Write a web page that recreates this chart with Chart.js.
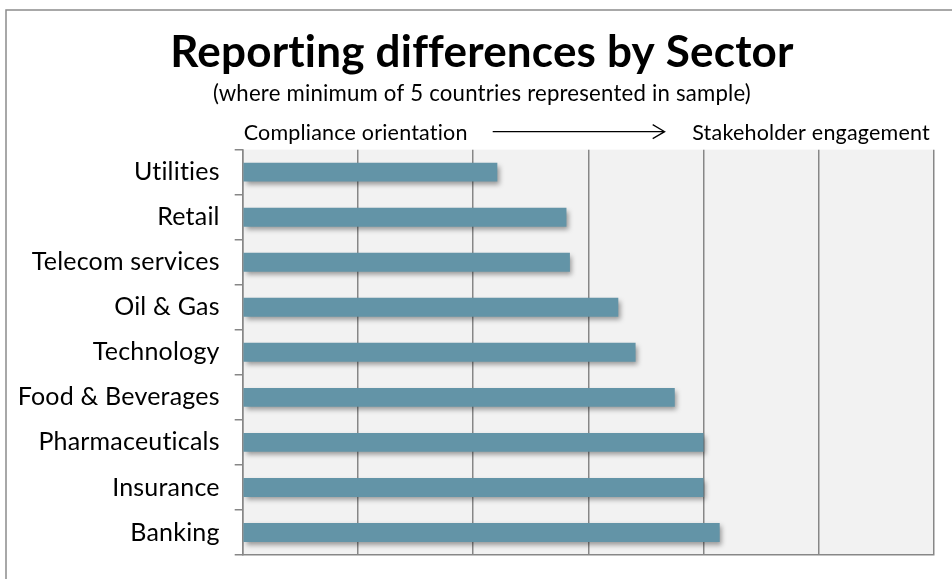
<!DOCTYPE html>
<html>
<head>
<meta charset="utf-8">
<script src="https://cdn.jsdelivr.net/npm/chart.js@4"></script>
<style>
html,body{margin:0;padding:0;background:#fff;}
#wrap{width:952px;height:579px;position:relative;}
</style>
</head>
<body>
<div id="wrap"><canvas id="c" width="952" height="579"></canvas></div>
<script>
const categories = ['Utilities','Retail','Telecom services','Oil & Gas','Technology','Food & Beverages','Pharmaceuticals','Insurance','Banking'];
const values = [2.21, 2.81, 2.84, 3.26, 3.41, 3.75, 4.0, 4.0, 4.14];
const xTicks = [0, 1, 2, 3, 4, 5, 6];
const titleText = 'Reporting differences by Sector';
const subtitleText = '(where minimum of 5 countries represented in sample)';
const leftNote = 'Compliance orientation';
const rightNote = 'Stakeholder engagement';

const FONT = 'Lato, "Open Sans", sans-serif';
const GRID = '#878787';

const decor = {
  id: 'decor',
  beforeDraw(chart) {
    const {ctx, chartArea: a} = chart;
    ctx.letterSpacing = '0.2px';
    ctx.save();
    ctx.fillStyle = '#fff';
    ctx.fillRect(0, 0, chart.width, chart.height);
    ctx.strokeStyle = '#8c8c8c';
    ctx.lineWidth = 1.5;
    ctx.beginPath();
    ctx.moveTo(6, chart.height + 2);
    ctx.lineTo(6, 10);
    ctx.lineTo(chart.width + 2, 10);
    ctx.stroke();
    ctx.fillStyle = '#f2f2f2';
    ctx.fillRect(a.left, a.top, a.right - a.left, a.bottom - a.top);
    ctx.restore();
  },
  beforeDatasetsDraw(chart) {
    const ctx = chart.ctx;
    ctx.save();
    ctx.shadowColor = 'rgba(0,0,0,0.38)';
    ctx.shadowBlur = 5;
    ctx.shadowOffsetX = 2.5;
    ctx.shadowOffsetY = 3;
  },
  afterDatasetsDraw(chart) {
    chart.ctx.restore();
  },
  afterDraw(chart) {
    const {ctx, chartArea: a} = chart;
    const y = a.top - 17;
    ctx.save();
    ctx.fillStyle = '#000';
    ctx.font = '21.5px ' + FONT;
    ctx.textBaseline = 'middle';
    ctx.textAlign = 'left';
    ctx.fillText(leftNote, a.left + 1, y);
    ctx.textAlign = 'right';
    ctx.fillText(rightNote, a.right - 4, y);
    const x1 = a.left + 250, x2 = a.left + 422;
    ctx.strokeStyle = '#000';
    ctx.lineWidth = 1.2;
    ctx.beginPath();
    ctx.moveTo(x1, y - 1);
    ctx.lineTo(x2, y - 1);
    ctx.moveTo(x2 - 12, y - 8);
    ctx.lineTo(x2, y - 1);
    ctx.lineTo(x2 - 12, y + 6);
    ctx.stroke();
    ctx.restore();
  }
};

new Chart(document.getElementById('c'), {
  type: 'bar',
  data: {
    labels: categories,
    datasets: [{
      data: values,
      backgroundColor: '#6394a7',
      borderWidth: 0,
      categoryPercentage: 1.0,
      barPercentage: 0.42
    }]
  },
  plugins: [decor],
  options: {
    indexAxis: 'y',
    responsive: false,
    animation: false,
    devicePixelRatio: 1,
    layout: { padding: { left: 16, right: 4, top: 0, bottom: 24 } },
    plugins: {
      legend: { display: false },
      tooltip: { enabled: false },
      title: {
        display: true,
        text: titleText,
        color: '#000',
        font: { family: FONT, size: 44, weight: 'bold', lineHeight: 1.2 },
        padding: { top: 26.5, bottom: 1 }
      },
      subtitle: {
        display: true,
        text: subtitleText,
        color: '#000',
        font: { family: FONT, size: 22.2, lineHeight: 1.2 },
        padding: { top: 0, bottom: 42.7 }
      }
    },
    scales: {
      x: {
        min: 0, max: 6,
        afterBuildTicks(s) { s.ticks = xTicks.map(v => ({value: v})); },
        afterFit(s) { s.height = 0; s.paddingLeft = 0; s.paddingRight = 0; },
        ticks: { display: false },
        grid: { color: GRID, lineWidth: 1.5, drawTicks: false },
        border: { display: true, color: GRID, width: 1.5 }
      },
      y: {
        afterFit(s) { s.width = 226.7; s.paddingTop = 0; s.paddingBottom = 0; },
        ticks: { color: '#000', font: { family: FONT, size: 25 }, padding: 15 },
        grid: { offset: true, drawOnChartArea: false, color: GRID, lineWidth: 1.5, tickLength: 8 },
        border: { display: true, color: GRID, width: 1.5 }
      },
      y2: {
        type: 'category',
        labels: categories,
        position: 'right',
        afterFit(s) { s.width = 14; s.paddingTop = 0; s.paddingBottom = 0; },
        ticks: { display: false },
        grid: { display: false },
        border: { display: false }
      }
    }
  }
});
</script>
</body>
</html>
